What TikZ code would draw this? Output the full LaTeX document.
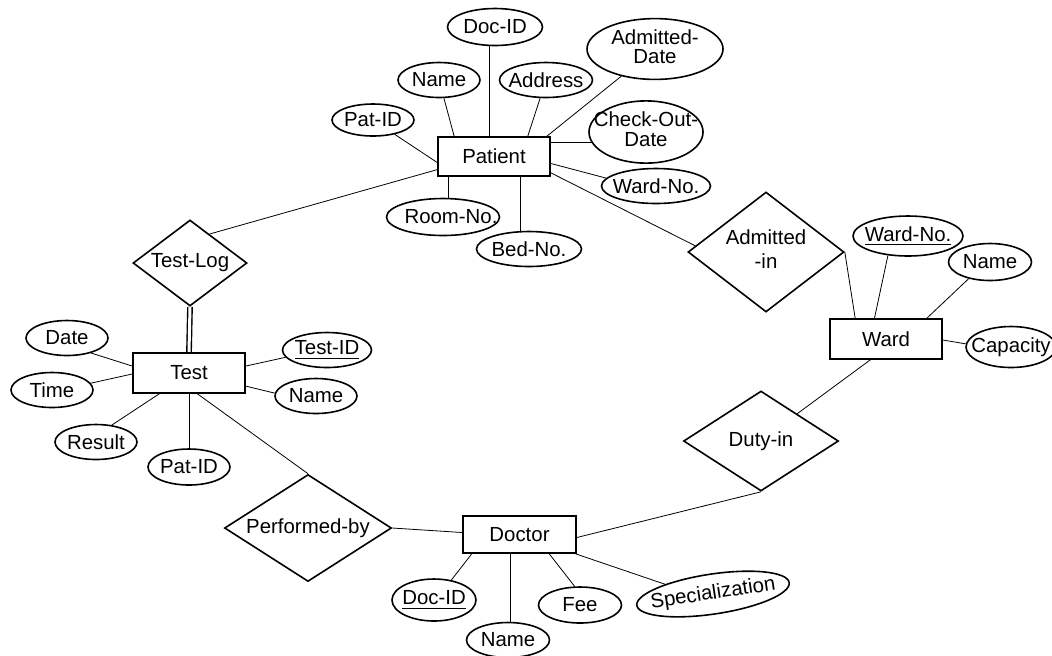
\documentclass[tikz,border=0pt]{standalone}
\usepackage{fontspec}
\setmainfont{Liberation Sans}
\usetikzlibrary{shapes.geometric,calc}
\pgfdeclarelayer{bg}
\pgfsetlayers{bg,main}
\newcommand\zw[1]{\makebox[0pt]{#1}}
\begin{document}
\begin{tikzpicture}[x=0.5pt,y=-0.5pt,line width=0.8pt,
  font=\fontsize{10.2}{12}\selectfont,
  ent/.style 2 args={draw,fill=white,rectangle,inner sep=0pt,minimum width=#1,minimum height=#2},
  attr/.style 2 args={draw,fill=white,ellipse,inner sep=0pt,minimum width=#1,minimum height=#2},
  rel/.style 2 args={draw,fill=white,diamond,inner sep=0pt,minimum width=#1,minimum height=#2},
  dbl/.style={double,double distance=1.5pt,line width=0.7pt}]
\useasboundingbox (0,0) rectangle (1052,655);
% entities
\node[ent={56pt}{19.5pt}] (P) at (494,156.5) {Patient};
\node[ent={56pt}{20pt}] (W) at (886,339) {Ward};
\node[ent={56pt}{20pt}] (T) at (189,373) {Test};
\node[ent={56.5pt}{18.5pt}] (D) at (519.5,534.5) {Doctor};
% relationships
\node[rel={57pt}{43pt}] (TL) at (190,263) {\zw{Test-Log}};
\node[rel={78pt}{60pt}] (AD) at (766,252) {\zw{\begin{tabular}{@{}c@{}}Admitted\\-in\end{tabular}}};
\node[rel={77.5pt}{50pt}] (DU) at (761,441) {\zw{Duty-in}};
\node[rel={83.5pt}{53.5pt}] (PB) at (308,528) {\zw{Performed-by}};
% patient attributes
\node[attr={47.5pt}{18.5pt}] (pdid) at (495,27) {\zw{Doc-ID}};
\node[attr={41pt}{17.5pt}] (pnm) at (439,80) {\zw{Name}};
\node[attr={46.5pt}{17.5pt}] (paddr) at (546,80) {\zw{Address}};
\node[attr={68pt}{27pt}] (padm) at (655,49) {\zw{\raisebox{-1pt}{\begin{tabular}{@{}c@{}}Admitted-\\[-2.5pt]Date\end{tabular}}}};
\node[attr={41pt}{16pt}] (ppid) at (373,120) {\zw{Pat-ID}};
\node[attr={57pt}{30pt}] (pcod) at (646,132) {\zw{\raisebox{-2pt}{\begin{tabular}{@{}c@{}}Check-Out-\\[-2pt]Date\end{tabular}}}};
\node[attr={54.5pt}{17.5pt}] (pwn) at (656,186) {\zw{Ward-No.}};
\node[attr={56.5pt}{18.5pt}] (prn) at (443,217) {\zw{\hspace{8pt}Room-No.}};
\node[attr={52.5pt}{17.5pt}] (pbn) at (529,249) {\zw{Bed-No.}};
% ward attributes
\node[attr={55pt}{20pt}] (wwn) at (908,236) {\zw{\underline{Ward-No.}}};
\node[attr={41.5pt}{18.5pt}] (wnm) at (990,262) {\zw{Name}};
\node[attr={45pt}{20.5pt}] (wcap) at (1011,347) {\zw{Capacity}};
% test attributes
\node[attr={41pt}{17.5pt}] (tdate) at (67,338) {\zw{Date}};
\node[attr={41pt}{17.5pt}] (ttime) at (52,390) {\zw{Time}};
\node[attr={41pt}{17.5pt}] (tres) at (96,442) {\zw{Result}};
\node[attr={41pt}{18pt}] (tpid) at (189,467) {\zw{Pat-ID}};
\node[attr={44.5pt}{17.5pt}] (tid) at (327,350) {\zw{\underline{Test-ID}}};
\node[attr={41pt}{17.5pt}] (tnm) at (316,396) {\zw{Name}};
% doctor attributes
\node[attr={42pt}{21pt}] (ddid) at (434,600) {\zw{\underline{Doc-ID}}};
\node[attr={41.5pt}{17.5pt}] (dnm) at (508,640) {\zw{Name}};
\node[attr={41.5pt}{18pt}] (dfee) at (580,605) {\zw{Fee}};
\node[attr={77pt}{20pt},rotate=8.5] (dspec) at (713,594) {\zw{Specialization}};
% connectors
\begin{pgfonlayer}{bg}
\fill[white] (0,0) rectangle (1052,655);
\draw (P.186) -- (ppid);
\draw (P.153) -- (pnm);
\draw (P.102) -- (P.102 |- pdid);
\draw (P.31) -- (paddr);
\draw (P.21) -- (padm);
\draw (P.14) -- (P.14 -| pcod);
\draw (P.-7) -- (pwn.171);
\draw (P.204) -- (P.204 |- prn);
\draw (P.322) -- (P.322 |- pbn);
\draw (P.193) -- (TL.56);
\draw (P.344) -- (AD.175);
\draw (AD.east) -- (W.146);
\draw (W.119) -- (wwn.224);
\draw (W.27) -- (wnm.218);
\draw (W.-1) -- (wcap.176);
\draw (W.233) -- (DU.37);
\draw (DU.south) -- (D.-3);
\draw (PB.east) -- (D.178);
\draw (T.292) -- (PB.north);
\draw[dbl] (TL.south) -- (T.north);
\draw (T.173) -- (tdate.328);
\draw (T.181) -- (ttime.10);
\draw (T.215) -- (tres.47);
\draw (T.south) -- (tpid);
\draw (T.7) -- (tid.190);
\draw (T.347) -- (tnm.176);
\draw (D.202) -- (ddid.49);
\draw (D.245) -- (D.245 |- dnm);
\draw (D.327) -- (dfee.106);
\draw (D.341) -- (dspec.160);
\end{pgfonlayer}
\end{tikzpicture}
\end{document}
